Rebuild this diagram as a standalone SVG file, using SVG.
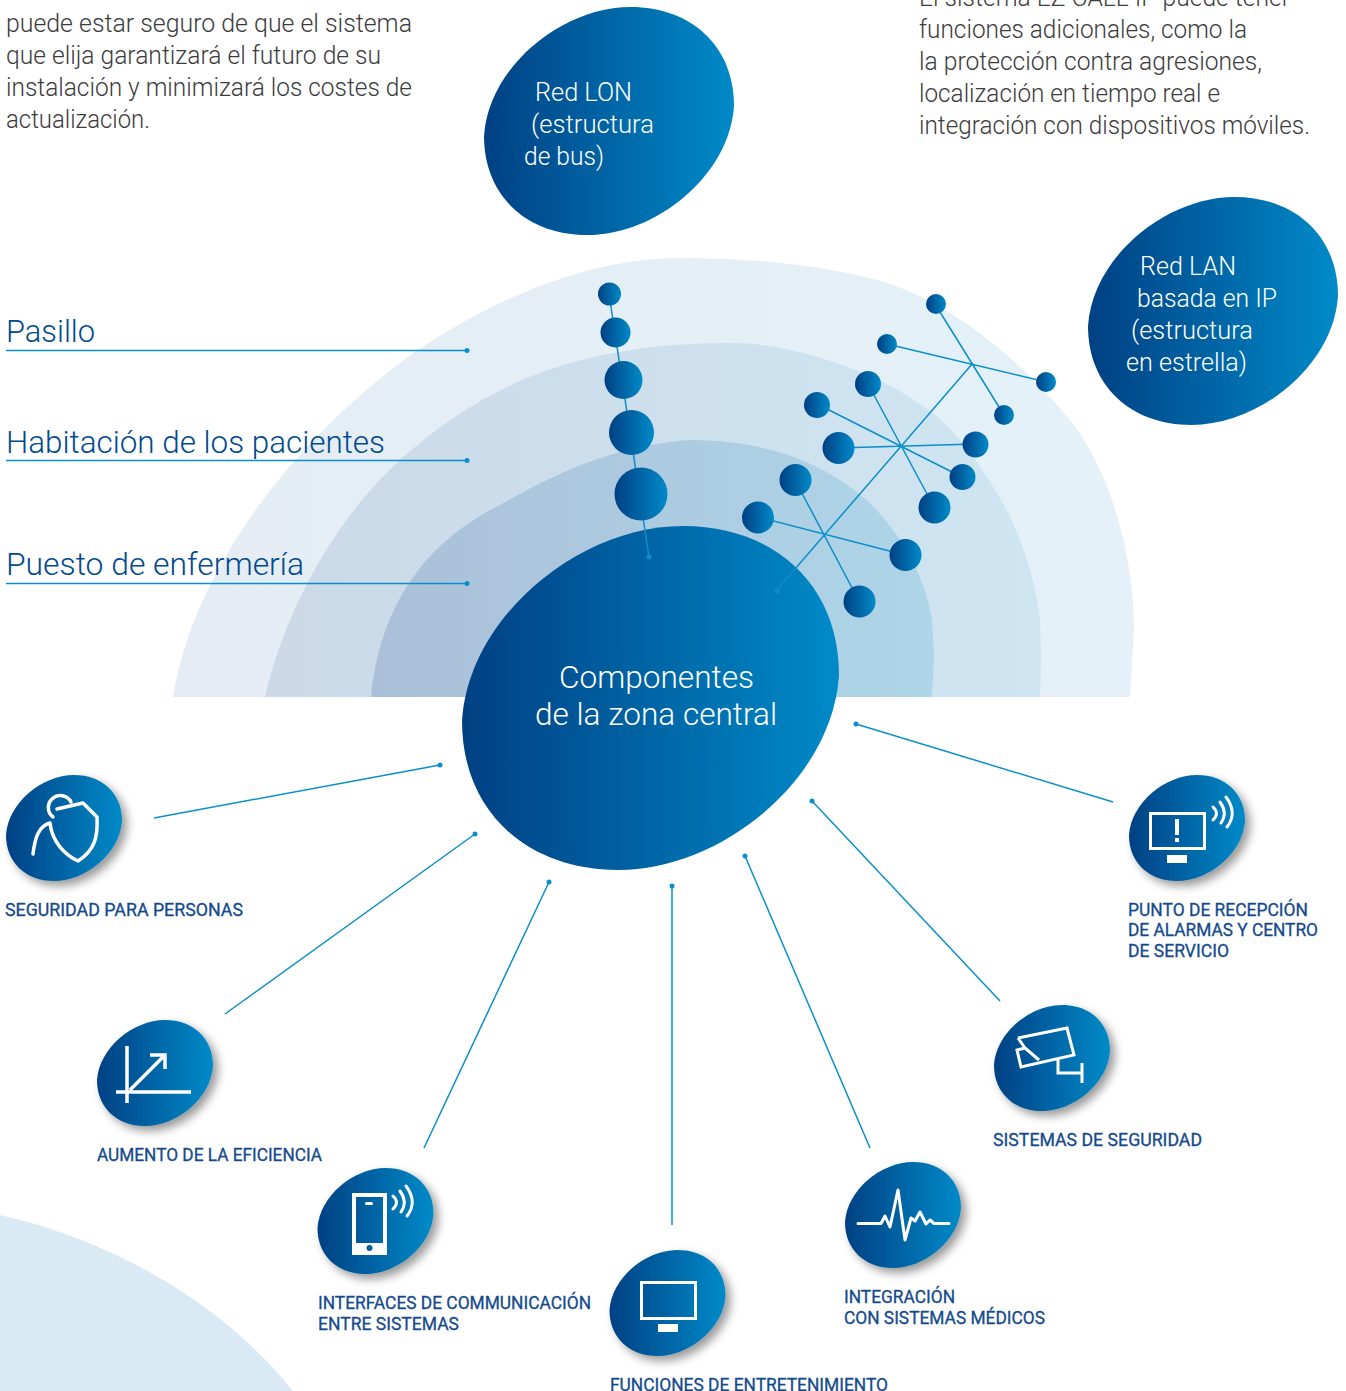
<svg xmlns="http://www.w3.org/2000/svg" width="1346" height="1391" viewBox="0 0 1346 1391">
<style>
.body{font-family:"Roboto","Liberation Sans",sans-serif;font-weight:300;font-size:25px;fill:#3c3c3c}
.room{font-family:"Roboto","Liberation Sans",sans-serif;font-weight:300;font-size:32px;fill:#004a8f}
.in{font-family:"Roboto","Liberation Sans",sans-serif;font-weight:300;font-size:25px;fill:#fff}
.big{font-size:32px}
.cap{font-family:"Roboto","Liberation Sans",sans-serif;font-weight:400;font-size:17.5px;fill:#144a8c;stroke:#144a8c;stroke-width:.3}
.c{stroke:#0a8fc9;stroke-width:1.5;fill:none}
.d{fill:#0a8fc9}
.i{fill:none;stroke:#fff;stroke-width:3}
.w{fill:#fff}
</style>
<defs>
<linearGradient id="g"><stop offset="0" stop-color="#004083"/><stop offset="1" stop-color="#008ac8"/></linearGradient>
<linearGradient id="a1"><stop offset="0" stop-color="#e5ecf4"/><stop offset="1" stop-color="#e4f1f8"/></linearGradient>
<linearGradient id="a2"><stop offset="0" stop-color="#cbd9e7"/><stop offset="1" stop-color="#cfe5f2"/></linearGradient>
<linearGradient id="a3"><stop offset="0" stop-color="#abc0d8"/><stop offset="1" stop-color="#aed5e8"/></linearGradient>
<filter id="s" x="-20%" y="-20%" width="150%" height="150%"><feDropShadow dx="5" dy="5" stdDeviation="5" flood-color="#000" flood-opacity=".4"/></filter>
<path id="b" d="M0,60C2,28 36,0 68,0C96,0 116,18 116,46C114,78 80,106 48,106C20,106 0,88 0,60Z" fill="url(#g)"/>
<path id="w" class="i" stroke-linecap="round" d="M0,0Q7,6.500 0,13M7,-5Q15,6 8,16M13,-10Q25,6 14,20"/>
</defs>
<g id="bands">
<path d="M0,1215C110,1240 220,1300 293,1391L0,1391Z" fill="#d9eaf4"/>
<path d="M173,697C192,575 290,440 418,350C495,298 590,258 680,258C750,258 820,265 877,280C950,300 1020,360 1070,420C1110,470 1134,555 1134,630L1130,697Z" fill="url(#a1)"/>
<path d="M265,697C290,590 350,505 400,460C470,397 540,365 620,352C650,346 690,343 730,343C780,343 825,358 863,373C890,384 912,398 933,413C960,435 980,465 997,493C1020,530 1036,580 1040,620L1041,660L1040,697Z" fill="url(#a2)"/>
<path d="M371,697C380,610 420,545 500,505C560,470 620,445 690,440C770,440 825,465 863,497C900,530 925,575 932,620L934,655L932,697Z" fill="url(#a3)"/>
</g>
<g id="text-top">
<text class="body" x="6" y="32" textLength="406" lengthAdjust="spacingAndGlyphs">puede estar seguro de que el sistema</text>
<text class="body" x="6" y="64" textLength="375" lengthAdjust="spacingAndGlyphs">que elija garantizará el futuro de su</text>
<text class="body" x="6" y="96" textLength="406" lengthAdjust="spacingAndGlyphs">instalación y minimizará los costes de</text>
<text class="body" x="6" y="128" textLength="144" lengthAdjust="spacingAndGlyphs">actualización.</text>
<text class="body" x="919" y="6" textLength="371" lengthAdjust="spacingAndGlyphs">El sistema EZ CALL IP puede tener</text>
<text class="body" x="919" y="38" textLength="328" lengthAdjust="spacingAndGlyphs">funciones adicionales, como la</text>
<text class="body" x="919" y="70" textLength="343" lengthAdjust="spacingAndGlyphs">la protección contra agresiones,</text>
<text class="body" x="919" y="102" textLength="301" lengthAdjust="spacingAndGlyphs">localización en tiempo real e</text>
<text class="body" x="919" y="134" textLength="391" lengthAdjust="spacingAndGlyphs">integración con dispositivos móviles.</text>
</g>
<g id="node-central"><use href="#b" transform="translate(462,526) scale(3.25,3.245)"/>
<text class="in big" x="559" y="688" textLength="195" lengthAdjust="spacingAndGlyphs">Componentes</text><text class="in big" x="535" y="725" textLength="242" lengthAdjust="spacingAndGlyphs">de la zona central</text></g>
<g id="connectors">
<path class="c" d="M6,350.500H467M6,460.500H467M6,583.500H467"/>
<path class="c" d="M609,294L649,557"/>
<path class="c" d="M776,591L973,363M935,304L1004,415M887,344L1046,382M868,384L934,507M817,404L962,477M838,448L975,444M795,480L859,601M758,517L905,555"/>
<path class="c" d="M154,818L440,765M225,1014L475,834M424,1148L549,882M672,1225V886M870,1148L745,856M1000,1001L812,801M1113,802L856,724"/>
<circle class="d" cx="467" cy="350.500" r="2.500"/><circle class="d" cx="467" cy="460.500" r="2.500"/><circle class="d" cx="467" cy="583.500" r="2.500"/>
<circle class="d" cx="649" cy="557" r="2.500"/><circle class="d" cx="777" cy="591" r="2.500"/>
<circle class="d" cx="440" cy="765" r="2.500"/><circle class="d" cx="475" cy="834" r="2.500"/><circle class="d" cx="549" cy="882" r="2.500"/><circle class="d" cx="672" cy="886" r="2.500"/><circle class="d" cx="745" cy="856" r="2.500"/><circle class="d" cx="812" cy="801" r="2.500"/><circle class="d" cx="856" cy="724" r="2.500"/>
</g>
<g id="room-labels">
<text class="room" x="6" y="342" textLength="89" lengthAdjust="spacingAndGlyphs">Pasillo</text>
<text class="room" x="6" y="453" textLength="379" lengthAdjust="spacingAndGlyphs">Habitación de los pacientes</text>
<text class="room" x="6" y="575" textLength="298" lengthAdjust="spacingAndGlyphs">Puesto de enfermería</text>
</g>
<g id="bus-nodes" fill="url(#g)">
<circle cx="609.500" cy="294" r="11.500"/><circle cx="615.500" cy="332.500" r="15"/><circle cx="623.500" cy="380" r="19"/><circle cx="631.500" cy="432.500" r="22.500"/><circle cx="641" cy="494" r="26.500"/>
</g>
<g id="star-nodes" fill="url(#g)">
<circle cx="936" cy="304" r="10"/><circle cx="887" cy="344" r="10"/><circle cx="1046" cy="382" r="10"/><circle cx="1004" cy="415" r="10"/>
<circle cx="868" cy="384" r="13"/><circle cx="817" cy="405" r="13"/><circle cx="975.500" cy="444.500" r="13"/><circle cx="962.500" cy="477" r="13"/>
<circle cx="838.500" cy="448" r="16"/><circle cx="934.500" cy="507.500" r="16"/><circle cx="795.500" cy="480" r="16"/><circle cx="758" cy="517.500" r="16"/><circle cx="905.500" cy="555" r="16"/><circle cx="859.500" cy="601.500" r="16"/>
</g>
<g id="node-lon"><use href="#b" transform="translate(484,7) scale(2.155,2.151)"/>
<text class="in" x="535" y="101" textLength="97" lengthAdjust="spacingAndGlyphs">Red LON</text><text class="in" x="531" y="133" textLength="123" lengthAdjust="spacingAndGlyphs">(estructura</text><text class="in" x="524" y="165" textLength="80" lengthAdjust="spacingAndGlyphs">de bus)</text></g>
<g id="node-lan"><use href="#b" transform="translate(1088,197) scale(2.155,2.151)"/>
<text class="in" x="1140" y="275" textLength="96" lengthAdjust="spacingAndGlyphs">Red LAN</text><text class="in" x="1137" y="307" textLength="140" lengthAdjust="spacingAndGlyphs">basada en IP</text><text class="in" x="1131" y="339" textLength="122" lengthAdjust="spacingAndGlyphs">(estructura</text><text class="in" x="1126" y="371" textLength="121" lengthAdjust="spacingAndGlyphs">en estrella)</text></g>
<g id="node-personas"><use href="#b" transform="translate(6,775)" filter="url(#s)"/>
<path class="i" style="stroke-width:3.500" stroke-linejoin="round" stroke-linecap="round" d="M33,854C35,837 39,826 50,823M53,817A12,12 0 1 1 71,802M57,809L83,803L97,817C98,837 95,850 78,861C65,855 52,842 50,823"/>
<text class="cap" x="5" y="916" textLength="238" lengthAdjust="spacingAndGlyphs">SEGURIDAD PARA PERSONAS</text></g>
<g id="node-eficiencia"><use href="#b" transform="translate(97,1020)" filter="url(#s)"/>
<path class="i" style="stroke-width:3.500" d="M127,1046V1103M116,1092H191M130,1090L164,1056M150,1055H165V1069"/>
<text class="cap" x="97" y="1161" textLength="225" lengthAdjust="spacingAndGlyphs">AUMENTO DE LA EFICIENCIA</text></g>
<g id="node-interfaces"><use href="#b" transform="translate(317.500,1168)" filter="url(#s)"/>
<path class="w" fill-rule="evenodd" d="M352,1193h35v62h-35zM356,1197v46h27v-46zM366.500,1248a3,3 0 1 0 6,0a3,3 0 1 0 -6,0z"/><rect class="w" x="365" y="1202" width="8" height="3" rx="1.500"/>
<use href="#w" transform="translate(393,1196)"/>
<text class="cap" x="318" y="1309" textLength="273" lengthAdjust="spacingAndGlyphs">INTERFACES DE COMMUNICACIÓN</text><text class="cap" x="318" y="1330" textLength="141" lengthAdjust="spacingAndGlyphs">ENTRE SISTEMAS</text></g>
<g id="node-entretenimiento"><use href="#b" transform="translate(609.500,1250)" filter="url(#s)"/>
<rect class="i" x="641.500" y="1282.500" width="54" height="36"/><rect class="w" x="658" y="1324" width="20" height="8"/>
<text class="cap" x="610" y="1391" textLength="278" lengthAdjust="spacingAndGlyphs">FUNCIONES DE ENTRETENIMIENTO</text></g>
<g id="node-medicos"><use href="#b" transform="translate(845,1162)" filter="url(#s)"/>
<path class="i" stroke-linecap="round" stroke-linejoin="round" d="M858,1223.500H881L885,1216L890,1227L898,1190L905,1240L911,1218L915,1221L920,1212L926,1224L930,1220L934,1223.500H949"/>
<text class="cap" x="844" y="1303" textLength="111" lengthAdjust="spacingAndGlyphs">INTEGRACIÓN</text><text class="cap" x="844" y="1324" textLength="201" lengthAdjust="spacingAndGlyphs">CON SISTEMAS MÉDICOS</text></g>
<g id="node-seguridad"><use href="#b" transform="translate(994,1005)" filter="url(#s)"/>
<path class="i" d="M1018,1038L1067,1028L1074,1055L1021,1067L1017,1050L1025,1048L1039,1060M1018,1038L1025,1048M1058,1058V1073H1082M1082,1063V1083"/>
<text class="cap" x="993" y="1146" textLength="209" lengthAdjust="spacingAndGlyphs">SISTEMAS DE SEGURIDAD</text></g>
<g id="node-recepcion"><use href="#b" transform="translate(1129,775)" filter="url(#s)"/>
<rect class="i" x="1150.500" y="813.500" width="54" height="35"/><rect class="w" x="1167" y="855" width="20" height="8"/><rect class="w" x="1175" y="819" width="4" height="16"/><rect class="w" x="1175" y="838" width="4" height="4"/>
<use href="#w" transform="translate(1213,807)"/>
<text class="cap" x="1128" y="916" textLength="180" lengthAdjust="spacingAndGlyphs">PUNTO DE RECEPCIÓN</text><text class="cap" x="1128" y="936" textLength="190" lengthAdjust="spacingAndGlyphs">DE ALARMAS Y CENTRO</text><text class="cap" x="1128" y="957" textLength="101" lengthAdjust="spacingAndGlyphs">DE SERVICIO</text></g>
</svg>
